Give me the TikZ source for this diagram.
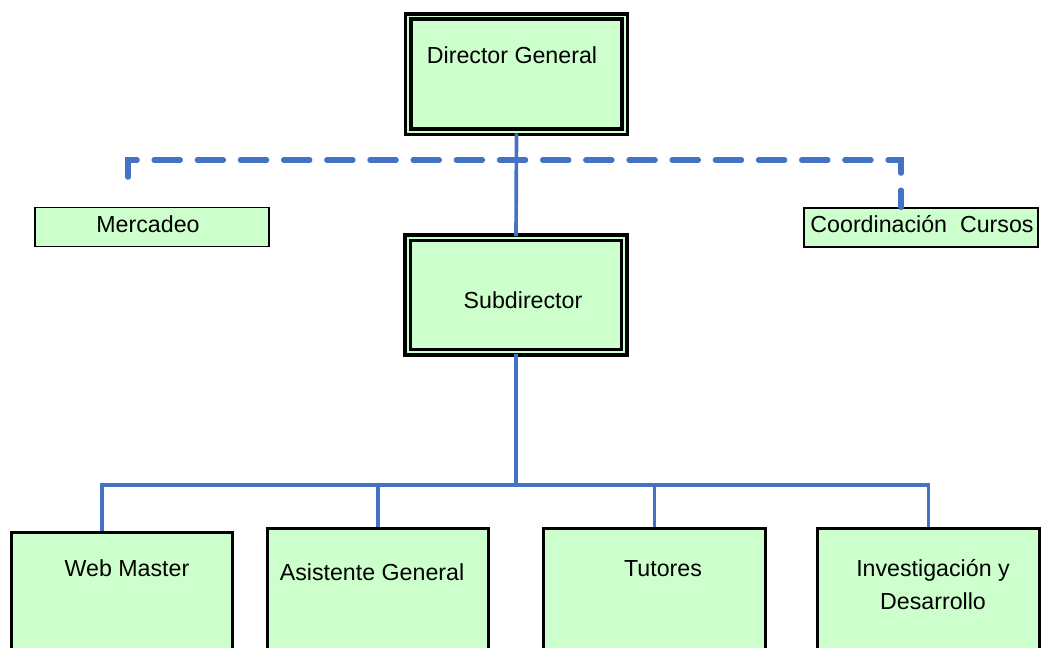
\documentclass[tikz,border=0pt]{standalone}
\usepackage{fontspec}
\setmainfont{Liberation Sans}
\usetikzlibrary{calc}
\definecolor{boxgreen}{RGB}{204,255,204}
\definecolor{linkblue}{RGB}{68,114,196}
\tikzset{%
  headbox/.style={draw=black,fill=boxgreen,line width=2.5pt,double=boxgreen,double distance=1.4pt,minimum width=5.4cm,inner sep=0},
  sidebox/.style={draw=black,fill=boxgreen,line width=1pt,minimum width=5.85cm,minimum height=0.975cm,inner sep=0},
  unitbox/.style={draw=black,fill=boxgreen,line width=2pt,minimum width=5.53cm,minimum height=3.75cm,inner sep=0},
  lbl/.style={anchor=base,inner sep=0,font=\fontsize{16.5}{23}\selectfont},
  sline/.style={draw=linkblue,line width=2.6pt},
  dline/.style={draw=linkblue,line width=3.9pt,line cap=round,dash pattern=on 18.5pt off 12.2pt}
}

\begin{document}
\begin{tikzpicture}[x=0.025cm,y=-0.025cm]
    \useasboundingbox (0,0) rectangle (1043,647);
    \clip (0,0) rectangle (1043,647);
    \path
      (516.5,74) node (dir)[headbox,minimum height=2.875cm]{}
      (516,295) node (sub)[headbox,minimum height=2.85cm]{}
      (152,227) node (mer)[sidebox]{}
      (921,227.5) node (coo)[sidebox]{}
      (122,607.4) node (web)[unitbox]{}
      (378,603.4) node (asi)[unitbox]{}
      (654.5,603.4) node (tut)[unitbox]{}
      (928.5,603.4) node (inv)[unitbox]{};
    \path
      (512,63) node (tdir)[lbl]{Director General}
      (523,308) node (tsub)[lbl]{Subdirector}
      (148,232) node (tmer)[lbl]{Mercadeo}
      (922,232) node (tcoo)[lbl]{Coordinación\ \ Cursos}
      (127,576) node (tweb)[lbl]{Web Master}
      (372,580) node (tasi)[lbl]{Asistente General}
      (663,576) node (ttut)[lbl]{Tutores}
      (933,609) node (tinv)[lbl,align=center]{Investigación y\\Desarrollo};
    \coordinate (mtip) at (128,177);
    \coordinate (ctip) at (901,160);
    \coordinate (wdrop) at (102,485);
    \draw[dline] (mtip) |- (ctip) -- (ctip |- coo.north);
    \draw[sline] (dir.south) -- (sub.north);
    \draw[sline] (sub.south) -- (sub.south |- wdrop);
    \draw[sline] (web.north -| wdrop) |- (inv.north |- wdrop) -- (inv.north);
    \draw[sline] (asi.north) -- (asi.north |- wdrop);
    \draw[sline] (tut.north) -- (tut.north |- wdrop);
  \end{tikzpicture}
\end{document}
